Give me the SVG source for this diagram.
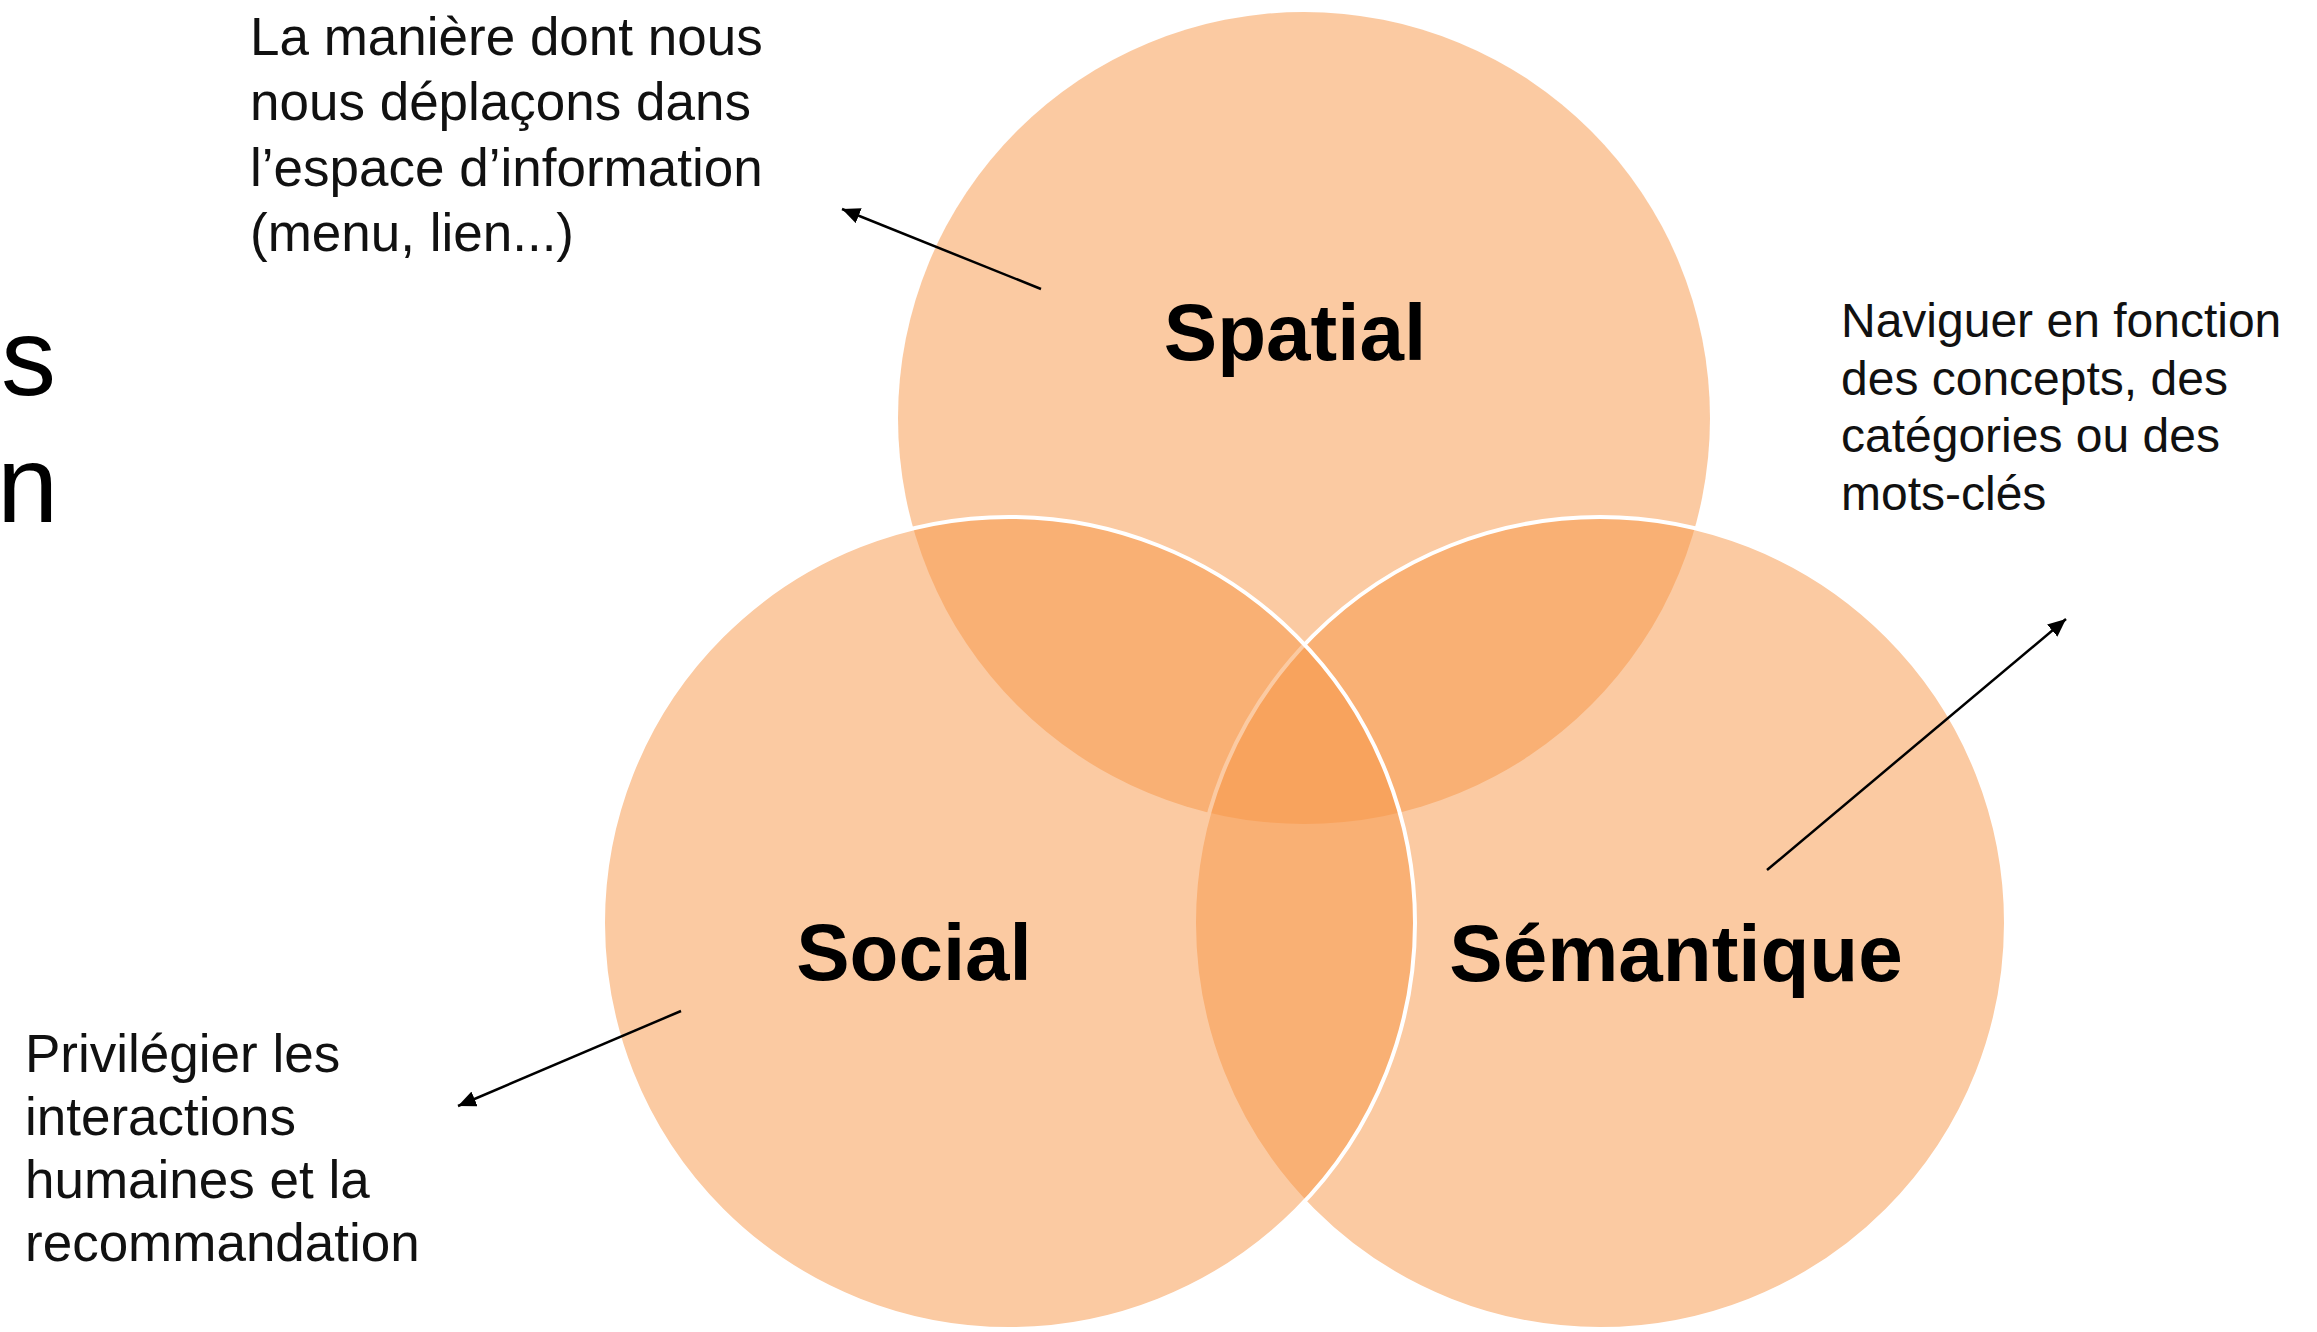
<svg xmlns="http://www.w3.org/2000/svg" width="2317" height="1332" viewBox="0 0 2317 1332">
<style>
.set{fill:#F79646;fill-opacity:0.5}
.outl{stroke:#FFFFFF;stroke-width:4}
.lbl{font-family:"Liberation Sans",Arial,sans-serif;font-weight:bold;font-size:80px;fill:#000;text-anchor:middle}
.note{font-family:"Liberation Sans",Arial,sans-serif;font-size:53px;fill:#111}
.note2{font-family:"Liberation Sans",Arial,sans-serif;font-size:48px;fill:#111}
.big{font-family:"Liberation Sans",Arial,sans-serif;font-size:110px;fill:#000}
.conn{stroke:#000;stroke-width:2.5;fill:none;marker-end:url(#ah)}
</style>
<defs>
<marker id="ah" markerUnits="userSpaceOnUse" markerWidth="20" markerHeight="16" refX="18" refY="8" orient="auto">
<path d="M0,0 L18,8 L0,16 z" fill="#000"/>
</marker>
</defs>
<rect width="2317" height="1332" fill="#FFFFFF"/>
<g id="cut-title">
<text class="big" x="1" y="395">s</text>
<text class="big" x="-3" y="522">n</text>
</g>
<g id="spatial">
<circle class="set" cx="1304" cy="418" r="406"/>
<text class="lbl" x="1295" y="360">Spatial</text>
</g>
<g id="semantique">
<circle class="set outl" cx="1600" cy="923" r="406"/>
<text class="lbl" x="1676" y="981">Sémantique</text>
</g>
<g id="social">
<circle class="set outl" cx="1009" cy="923" r="406"/>
<text class="lbl" x="914" y="980">Social</text>
</g>
<g id="note-spatial">
<text class="note" x="250" y="55">La manière dont nous</text>
<text class="note" x="250" y="120">nous déplaçons dans</text>
<text class="note" x="250" y="186">l’espace d’information</text>
<text class="note" x="250" y="251">(menu, lien...)</text>
</g>
<g id="note-semantique">
<text class="note2" x="1841" y="337">Naviguer en fonction</text>
<text class="note2" x="1841" y="395">des concepts, des</text>
<text class="note2" x="1841" y="452">catégories ou des</text>
<text class="note2" x="1841" y="510">mots-clés</text>
</g>
<g id="note-social">
<text class="note" x="25" y="1072">Privilégier les</text>
<text class="note" x="25" y="1135">interactions</text>
<text class="note" x="25" y="1198">humaines et la</text>
<text class="note" x="25" y="1261">recommandation</text>
</g>
<g id="connectors">
<line class="conn" x1="1041" y1="289" x2="842" y2="209"/>
<line class="conn" x1="681" y1="1011" x2="458" y2="1106"/>
<line class="conn" x1="1767" y1="870" x2="2066" y2="619"/>
</g>
</svg>
